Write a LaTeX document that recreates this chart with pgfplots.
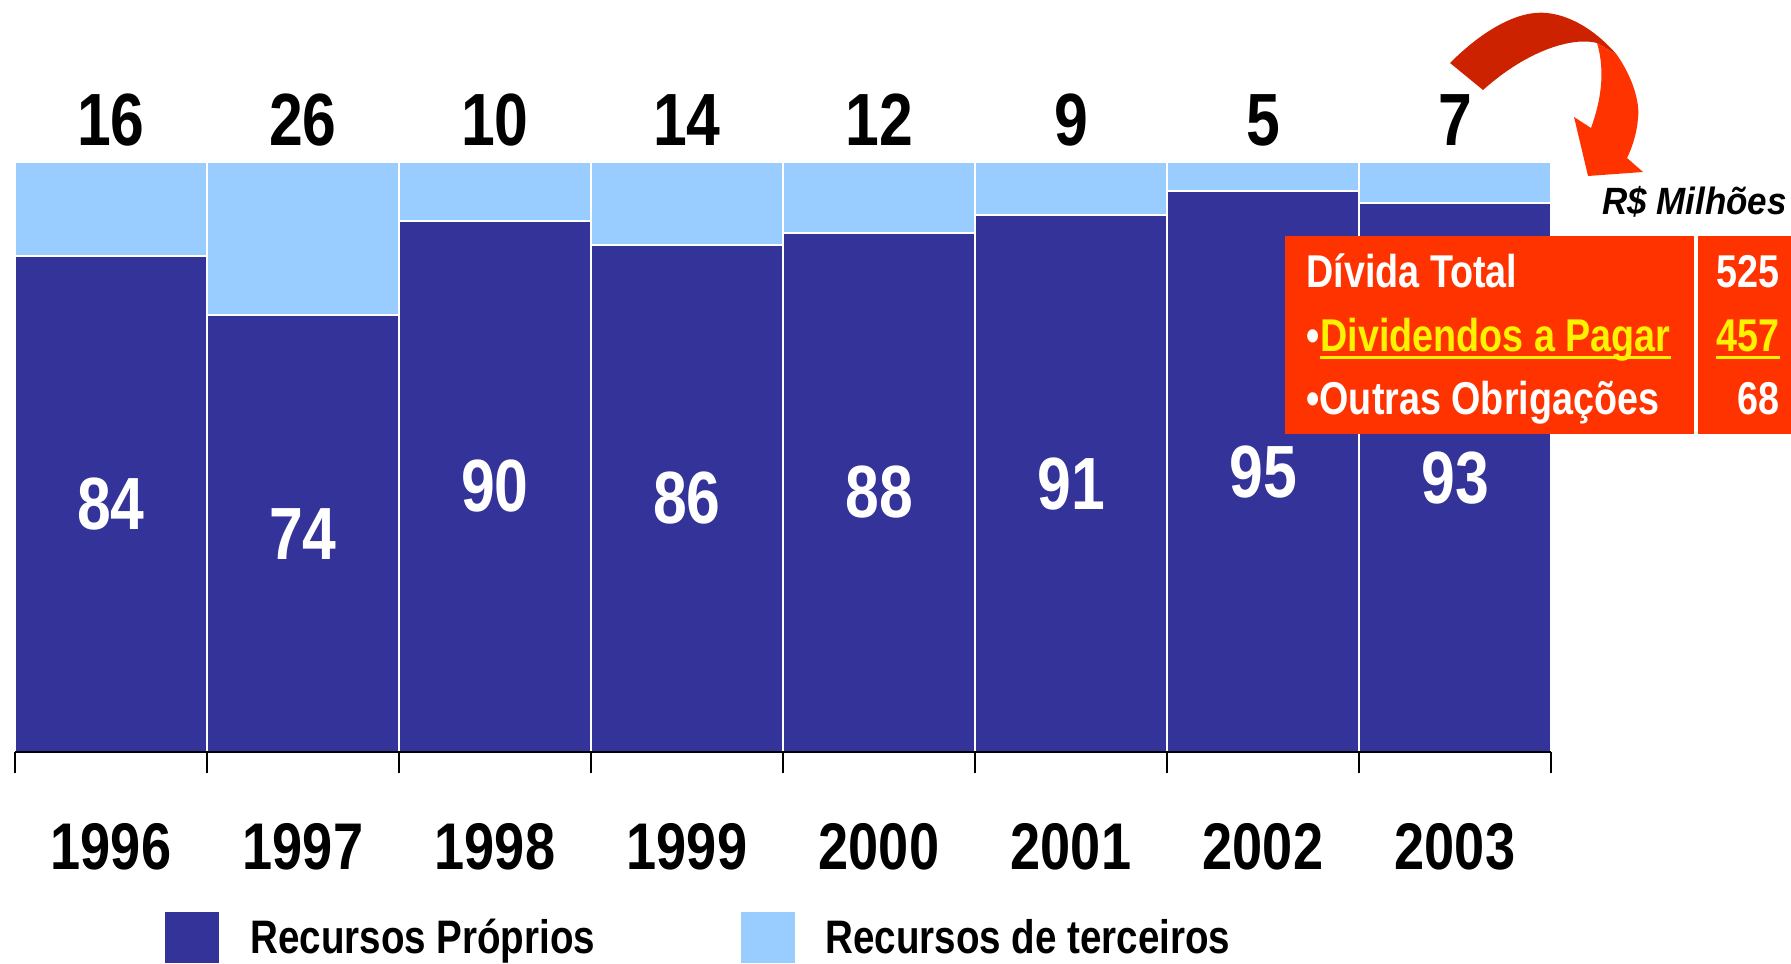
\documentclass[border=0pt]{standalone}
\usepackage{pgfplots}
\pgfplotsset{compat=1.18}
\usepackage{pgfplotstable}
\usepackage{fontspec}
\setmainfont{Liberation Sans}
\newfontfamily\narrow{Liberation Sans}[FakeStretch=0.82]
\newfontfamily\semi{Liberation Sans}[FakeStretch=0.92]

\definecolor{own}{HTML}{333399}
\definecolor{third}{HTML}{99CCFF}
\definecolor{boxred}{HTML}{FF3300}
\definecolor{darkred}{HTML}{CC2200}

\newcommand\bigdigits{\narrow\bfseries\fontsize{37pt}{40pt}\selectfont}
\newcommand\boxfont{\narrow\bfseries\fontsize{23pt}{26pt}\selectfont}

% participacao (%) por ano
\pgfplotstableread{
x   own third
0.5 84  16
1.5 74  26
2.5 90  10
3.5 86  14
4.5 88  12
5.5 91  9
6.5 95  5
7.5 93  7
}\data

\begin{document}
\begin{tikzpicture}
\begin{axis}[
    at={(7.5pt,105.5pt)}, anchor=south west,
    width=768pt, height=295pt, scale only axis,
    ybar stacked, bar width=1,
    xmin=0, xmax=8, ymin=0, ymax=100,
    axis y line=none, axis x line*=bottom,
    x axis line style={-, black, line width=1pt},
    axis on top, clip=false,
    xtick={0.5,1.5,...,7.5},
    xticklabels={1996,1997,1998,1999,2000,2001,2002,2003},
    major tick length=0pt,
    xticklabel style={font=\narrow\bfseries\fontsize{33pt}{36pt}\selectfont, anchor=base, yshift=-58.5pt},
    extra x ticks={0,1,...,8}, extra x tick labels={},
    extra x tick style={major tick length=10.5pt, tick align=outside,
        tick style={black, line width=0.6pt}},
    /pgf/number format/assume math mode=true,
]
\addplot[fill=own, draw=white, line width=1pt,
    nodes near coords, point meta=explicit,
    every node near coord/.append style={white, font=\bigdigits, anchor=center}]
    table[x=x, y=own, meta=own] {\data};
\addplot[fill=third, draw=white, line width=1pt,
    nodes near coords, point meta=explicit,
    visualization depends on=\thisrow{third} \as \rawthird,
    every node near coord/.append style={black, font=\bigdigits, anchor=base,
        shift={(axis direction cs:0,\rawthird/2)}, yshift=8pt}]
    table[x=x, y=third, meta=third] {\data};
\end{axis}

\begin{scope}[x=0.5pt,y=0.5pt]
% seta
\fill[darkred] (1450,900) .. controls (1485,935) and (1520,953) .. (1547,950)
    .. controls (1575,947) and (1600,928) .. (1617,908)
    -- (1597,920) .. controls (1575,926) and (1530,915) .. (1483,873) -- cycle;
\fill[boxred] (1617,908) .. controls (1633,885) and (1640,860) .. (1638,845)
    .. controls (1637,830) and (1632,815) .. (1627,805)
    -- (1643,791) -- (1588,787) -- (1574,846) -- (1591,835)
    .. controls (1600,860) and (1606,890) .. (1597,920) -- cycle;

\node[anchor=base east, inner sep=0, font=\semi\bfseries\itshape\fontsize{19pt}{21pt}\selectfont]
    at (1787,748) {R\$ Milhões};

% caixa
\fill[boxred] (1285,529) rectangle (1694,727);
\fill[boxred] (1698,529) rectangle (1791,727);
\node[anchor=base west, inner sep=0, white, font=\boxfont] at (1306,675) {Dívida Total};
\node[anchor=base east, inner sep=0, white, font=\boxfont] at (1780,675) {525};
\node[anchor=base west, inner sep=0, white, font=\boxfont] (b) at (1306,611) {•};
\node[anchor=base west, inner sep=0, yellow, font=\boxfont] (d) at (b.base east) {Dividendos a Pagar};
\node[anchor=base east, inner sep=0, yellow, font=\boxfont] (n) at (1780,611) {457};
\draw[yellow, line width=1.5pt] ([yshift=-3pt]d.base west) -- ([yshift=-3pt]d.base east);
\draw[yellow, line width=1.5pt] ([yshift=-3pt]n.base west) -- ([yshift=-3pt]n.base east);
\node[anchor=base west, inner sep=0, white, font=\boxfont] at (1306,548) {•Outras Obrigações};
\node[anchor=base east, inner sep=0, white, font=\boxfont] at (1780,548) {68};

% legenda
\fill[own] (165,0) rectangle (219,51);
\node[anchor=base west, inner sep=0, font=\narrow\bfseries\fontsize{23.5pt}{26pt}\selectfont] at (250,10) {Recursos Próprios};
\fill[third] (741,0) rectangle (795,51);
\node[anchor=base west, inner sep=0, font=\narrow\bfseries\fontsize{23.5pt}{26pt}\selectfont] at (825,10) {Recursos de terceiros};

\path[use as bounding box] (0,0) rectangle (1791,963);
\end{scope}
\end{tikzpicture}
\end{document}
